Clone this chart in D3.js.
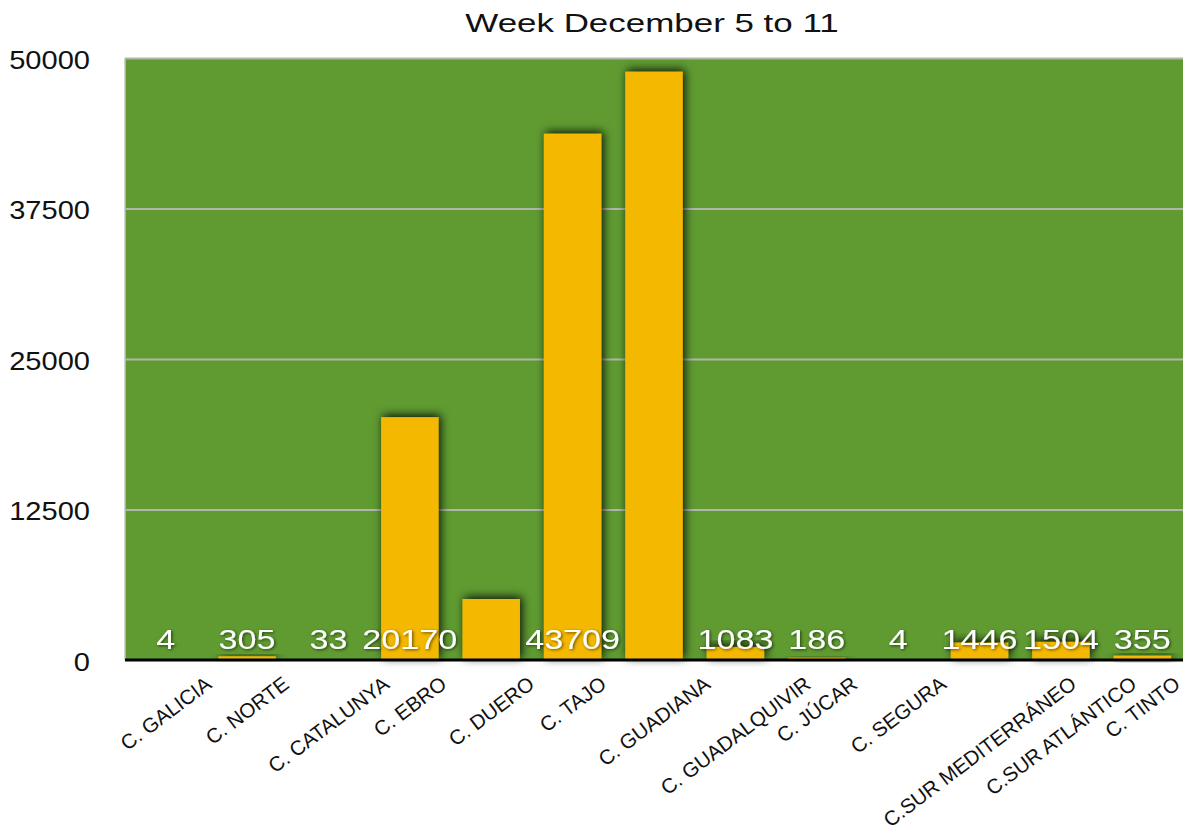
<!DOCTYPE html>
<html>
<head>
<meta charset="utf-8">
<script src="https://cdn.jsdelivr.net/npm/d3@7"></script>
<style>
  body { margin: 0; background: #fff; }
  text { font-family: "Liberation Sans", Arial, Helvetica, sans-serif; }
</style>
</head>
<body>
<svg id="chart" width="1187" height="838"></svg>
<script>
// chart data
var categories = ["C. GALICIA", "C. NORTE", "C. CATALUNYA", "C. EBRO", "C. DUERO", "C. TAJO",
  "C. GUADIANA", "C. GUADALQUIVIR", "C. JÚCAR", "C. SEGURA", "C.SUR MEDITERRÁNEO",
  "C.SUR ATLÁNTICO", "C. TINTO"];
var values = [4, 305, 33, 20170, 5066, 43709, 48860, 1083, 186, 4, 1446, 1504, 355];
var yTicks = [0, 12500, 25000, 37500, 50000];
// these two have no value label in the original
var hiddenLabels = ["C. DUERO", "C. GUADIANA"];
var title = "Week December 5 to 11";

// colours
var plotGreen = "#5f9b31";
var barYellow = "#f4b800";
var gridGray = "#b2b5ae";

var svg = d3.select("#chart");
// note: "top" is taken by window.top, so use plot* names
var plotLeft = 125, plotRight = 1183, plotTop = 58, plotBottom = 660;

var rows = categories.map(function(c, i) { return { cat: c, value: values[i] }; });

var defs = svg.append("defs");
defs.append("filter").attr("id", "barShadow")
  .attr("x", "-50%").attr("y", "-50%").attr("width", "200%").attr("height", "200%")
  .append("feDropShadow")
  .attr("dx", 2).attr("dy", -2).attr("stdDeviation", 5)
  .attr("flood-color", "#000").attr("flood-opacity", 0.9);
defs.append("filter").attr("id", "textShadow")
  .attr("x", "-20%").attr("y", "-20%").attr("width", "140%").attr("height", "140%")
  .append("feDropShadow")
  .attr("dx", 1).attr("dy", 1).attr("stdDeviation", 1.5)
  .attr("flood-color", "#000").attr("flood-opacity", 0.6);

var x = d3.scaleBand()
  .domain(categories)
  .range([plotLeft, plotRight])
  .paddingInner(0.294)
  .paddingOuter(0.147);

var y = d3.scaleLinear()
  .domain([0, 50000])
  .range([plotBottom, plotTop]);

// green plot area
svg.append("rect")
  .attr("x", plotLeft).attr("y", plotTop)
  .attr("width", plotRight - plotLeft).attr("height", plotBottom - plotTop)
  .attr("fill", plotGreen);

// left edge
svg.append("line")
  .attr("x1", plotLeft).attr("x2", plotLeft).attr("y1", plotTop).attr("y2", plotBottom)
  .attr("stroke", "#c4c4c4").attr("stroke-width", 1.5);

// y axis + grid
var yAxis = svg.append("g")
  .attr("transform", "translate(" + plotLeft + ",0)")
  .call(d3.axisLeft(y).tickValues(yTicks).tickSize(-(plotRight - plotLeft)).tickFormat(d3.format("d")));
yAxis.select(".domain").remove();
yAxis.selectAll(".tick line")
  .attr("stroke", gridGray).attr("stroke-width", 2)
  .attr("opacity", function(d) { return d === 0 ? 0 : 1; });
yAxis.selectAll(".tick text")
  .attr("x", null).attr("dy", null)
  .attr("transform", "translate(-35,10) scale(1.14,1)")
  .attr("text-anchor", "end")
  .attr("fill", "#111")
  .style("font-size", "25.5px")
  .style("font-family", "'Liberation Sans', Arial, sans-serif");

// bars
svg.append("g").selectAll("rect")
  .data(rows)
  .enter().append("rect")
  .attr("x", function(d) { return x(d.cat); })
  .attr("y", function(d) { return y(d.value); })
  .attr("width", x.bandwidth())
  .attr("height", function(d) { return plotBottom - y(d.value); })
  .attr("fill", barYellow)
  .attr("filter", "url(#barShadow)");

// base line
svg.append("line")
  .attr("x1", plotLeft).attr("x2", plotRight).attr("y1", plotBottom).attr("y2", plotBottom)
  .attr("stroke", "#000").attr("stroke-width", 3);

// value labels, all on one line near the bottom
svg.append("g").selectAll("text")
  .data(rows.filter(function(d) { return hiddenLabels.indexOf(d.cat) < 0; }))
  .enter().append("text")
  .attr("transform", function(d) {
    var cx = x(d.cat) + x.bandwidth() / 2;
    return "translate(" + cx + ",649) scale(1.22,1)";
  })
  .attr("text-anchor", "middle")
  .attr("fill", "#fff")
  .attr("filter", "url(#textShadow)")
  .style("font-size", "28px")
  .text(function(d) { return d.value; });

// category labels, rotated
var angle = 37;
var rad = angle * Math.PI / 180;
var fontX = 20.5;
var capH = fontX * 0.716;
var labelTop = 675;
svg.append("g").selectAll("text")
  .data(categories)
  .enter().append("text")
  .attr("text-anchor", "end")
  .attr("fill", "#111")
  .style("font-size", fontX + "px")
  .text(function(d) { return d; })
  .attr("transform", function(d) {
    var L = this.getComputedTextLength();
    var cx = x(d) + x.bandwidth() / 2;
    var ex = cx + (L * Math.cos(rad) + capH * Math.sin(rad)) / 2;
    var ey = labelTop + capH * Math.cos(rad);
    return "translate(" + ex + "," + ey + ") rotate(" + (-angle) + ")";
  });

// title
svg.append("text")
  .attr("transform", "translate(652,31.5) scale(1.37,1)")
  .attr("text-anchor", "middle")
  .attr("fill", "#111")
  .style("font-size", "25.5px")
  .text(title);
</script>
</body>
</html>
